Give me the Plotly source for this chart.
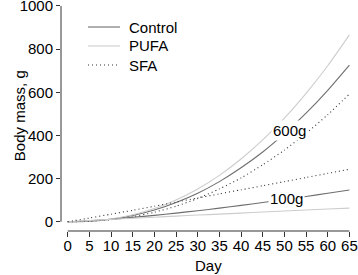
import plotly.graph_objects as go

days = [0, 5, 10, 15, 20, 25, 30, 35, 40, 45, 50, 55, 60, 65]
control_600 = [0, 2.6, 11.8, 28.8, 54, 89, 132, 186, 250, 323, 408, 503, 609, 726]
pufa_600 = [0, 2.7, 12.8, 32, 61, 101, 152, 215, 291, 379, 480, 595, 723, 866]
sfa_600 = [0, 2.1, 9.6, 23.5, 44, 72, 108, 152, 203, 264, 332, 410, 496, 592]
control_100 = [0, 4.5, 11.5, 20, 29.6, 40, 51, 63, 76, 89, 103, 117, 132, 147]
pufa_100 = [0, 6, 11, 16, 21, 26, 31, 35, 40, 45, 50, 54, 59, 63]
sfa_100 = [0, 17, 35, 53, 72, 91, 110, 129, 148, 167, 186, 205, 224, 243]

x_ticks = list(range(0, 70, 5))
y_ticks = [0, 200, 400, 600, 800, 1000]
legend_names = ["Control", "PUFA", "SFA"]

FONT = "Liberation Sans, Arial, sans-serif"
C_CTRL = "#6e6e6e"
C_PUFA = "#cdcdcd"
C_SFA = "#333333"
DOT = "1px,3px"
styles = {"Control": (C_CTRL, "solid"), "PUFA": (C_PUFA, "solid"), "SFA": (C_SFA, DOT)}

fig = go.Figure()

def add(y, name):
    color, dash = styles[name]
    fig.add_trace(go.Scatter(
        x=days, y=y, mode="lines", name=name, showlegend=False, hoverinfo="skip",
        line=dict(color=color, width=1.1, dash=dash, shape="spline", smoothing=0.6),
    ))

add(control_600, "Control")
add(pufa_600, "PUFA")
add(sfa_600, "SFA")
add(control_100, "Control")
add(pufa_100, "PUFA")
add(sfa_100, "SFA")

# labels on the control curves
fig.add_annotation(x=51.1, y=425, text="600g", showarrow=False, bgcolor="white",
                   borderpad=1, font=dict(family=FONT, size=15, color="black"))
fig.add_annotation(x=50.4, y=107, text="100g", showarrow=False, bgcolor="white",
                   borderpad=1, font=dict(family=FONT, size=15, color="black"))

# legend (drawn manually for R-like compact spacing)
PL, PT, PW, PH = 61, 5, 291, 226
for i, name in enumerate(legend_names):
    py = 27 + 19 * i
    yp = 1 - (py - PT) / PH
    color, dash = styles[name]
    fig.add_shape(type="line", xref="paper", yref="paper",
                  x0=(88 - PL) / PW, x1=(120 - PL) / PW, y0=yp, y1=yp,
                  line=dict(color=color, width=1.1, dash=dash))
    fig.add_annotation(xref="paper", yref="paper", x=(127 - PL) / PW, y=yp,
                       xanchor="left", yanchor="middle", text=name, showarrow=False,
                       font=dict(family=FONT, size=15, color="black"))

# axis titles
fig.add_annotation(x=32.5, y=-0.152, xref="x", yref="paper", yanchor="middle",
                   text="Day", showarrow=False, font=dict(family=FONT, size=15, color="black"))
fig.add_annotation(x=-0.18, y=490, xref="paper", yref="y", text="Body mass, g",
                   textangle=-90, showarrow=False, font=dict(family=FONT, size=15, color="black"))

# R-style detached axis lines spanning the tick range
fig.add_shape(type="line", xref="x", yref="paper", x0=0, x1=65, y0=0, y1=0,
              line=dict(color="#333", width=1))
fig.add_shape(type="line", xref="paper", yref="y", x0=0, x1=0, y0=0, y1=1000,
              line=dict(color="#333", width=1))

fig.update_layout(
    width=358, height=275,
    margin=dict(l=PL, r=358 - PL - PW, t=PT, b=275 - PT - PH, autoexpand=False),
    paper_bgcolor="white", plot_bgcolor="white",
    font=dict(family=FONT, size=15, color="black"),
    showlegend=False,
    hovermode=False,
    xaxis=dict(range=[-1.55, 65.6], tickvals=x_ticks, ticktext=[str(v) for v in x_ticks],
               showgrid=False, zeroline=False, showline=False, fixedrange=True, automargin=False,
               ticks="outside", ticklen=5, tickcolor="#333", tickfont=dict(size=15),
               ticklabelstandoff=-4, ticklabeloverflow="allow"),
    yaxis=dict(range=[-43, 1004.6], tickvals=y_ticks, ticktext=[str(v) for v in y_ticks],
               showgrid=False, zeroline=False, showline=False, fixedrange=True, automargin=False,
               ticks="outside", ticklen=4, tickcolor="#333", tickfont=dict(size=15),
               ticklabeloverflow="allow"),
)

fig.write_html("out.html", config={"displayModeBar": False, "staticPlot": True},
               post_script="document.body.style.margin='0';document.body.style.padding='0';")
